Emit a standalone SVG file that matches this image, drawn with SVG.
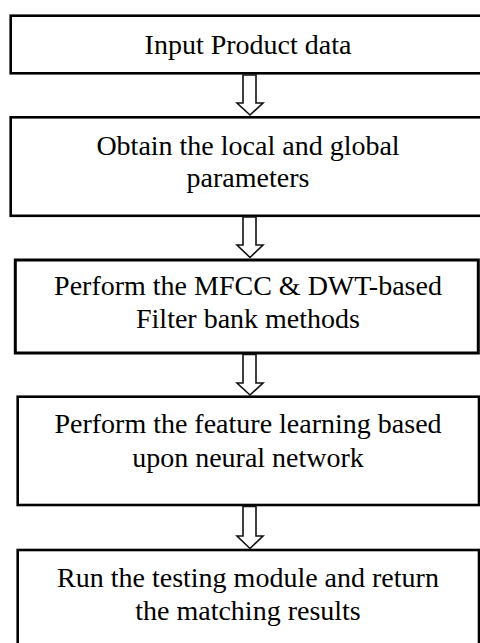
<svg xmlns="http://www.w3.org/2000/svg" width="480" height="643" viewBox="0 0 480 643">
<style>
.box{fill:#fff;stroke:#000;stroke-width:2.6}
.t{font-family:"Liberation Serif","Times New Roman",serif;font-size:28px;fill:#000;text-anchor:middle}
.arr{fill:#fff;stroke:#111;stroke-width:1.6;stroke-linejoin:miter}
</style>
<rect width="480" height="643" fill="#fff"/>
<g id="n1">
<rect class="box" x="10.7" y="15.7" width="475" height="57.6"/>
<text class="t" x="248" y="54">Input Product data</text>
</g>
<g id="n2">
<rect class="box" x="10.7" y="117.3" width="475" height="98.5"/>
<text class="t" x="248" y="155">Obtain the local and global</text>
<text class="t" x="248" y="187">parameters</text>
</g>
<g id="n3">
<rect class="box" x="15.3" y="260" width="463" height="93" style="stroke-width:3"/>
<text class="t" x="248" y="295">Perform the MFCC &amp; DWT-based</text>
<text class="t" x="248" y="328">Filter bank methods</text>
</g>
<g id="n4">
<rect class="box" x="17.7" y="396.7" width="461.3" height="108.3"/>
<text class="t" x="248" y="433">Perform the feature learning based</text>
<text class="t" x="248" y="467">upon neural network</text>
</g>
<g id="n5">
<rect class="box" x="17.7" y="550" width="461.3" height="110"/>
<text class="t" x="248" y="587">Run the testing module and return</text>
<text class="t" x="248" y="620">the matching results</text>
</g>
<g id="connectors">
<polygon class="arr" points="243,75 256,75 256,103 263,103 250,115 237,103 243,103"/>
<polygon class="arr" points="243,217 256,217 256,245 263,245 250,257.5 237,245 243,245"/>
<polygon class="arr" points="243,354.5 256,354.5 256,383 263,383 250,395 237,383 243,383"/>
<polygon class="arr" points="243,506.5 256,506.5 256,536 263,536 250,548.5 237,536 243,536"/>
</g>
</svg>
